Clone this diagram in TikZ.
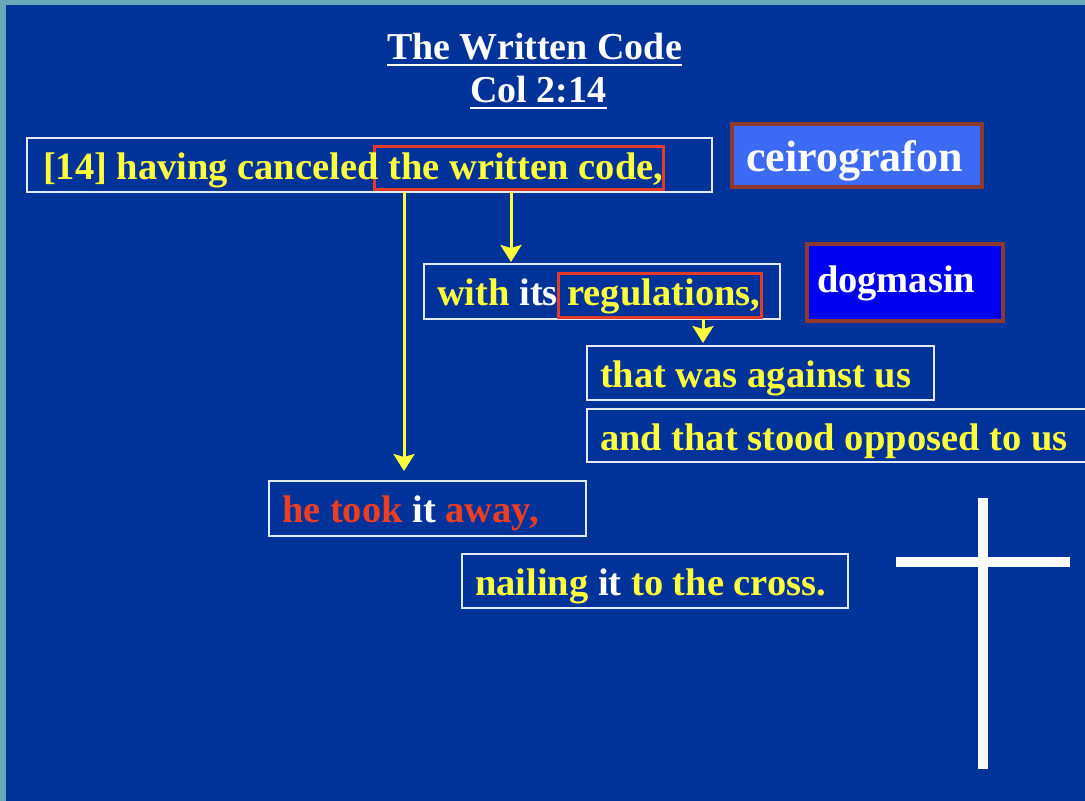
\documentclass[tikz,border=0pt]{standalone}
\usepackage{fontspec}
\setmainfont{Liberation Serif}
\usetikzlibrary{arrows.meta}
\definecolor{bgblue}{RGB}{0,51,153}
\definecolor{frameteal}{RGB}{106,168,184}
\definecolor{txtyellow}{RGB}{255,255,60}
\definecolor{txtred}{RGB}{236,62,34}
\definecolor{boxred}{RGB}{228,58,40}
\definecolor{boxbrown}{RGB}{140,58,45}
\definecolor{lightfill}{RGB}{60,106,245}
\definecolor{deepfill}{RGB}{0,0,240}
\definecolor{outline}{RGB}{225,235,245}
\tikzset{
  stdfont/.style={font=\bfseries\fontsize{38.5}{42}\selectfont},
  wbox/.style={draw=outline, line width=2pt, inner sep=0pt, outer sep=0pt},
  rbox/.style={draw=boxred, line width=3pt, inner sep=0pt, outer sep=0pt},
  gbox/.style={draw=boxbrown, line width=4pt, inner sep=0pt, outer sep=0pt},
  txt/.style={stdfont, inner sep=0pt, outer sep=0pt, anchor=base west},
  ttl/.style={font=\bfseries\fontsize{38}{40}\selectfont, text=white, inner sep=0pt, outer sep=0pt, anchor=base},
  uline/.style={draw=white, line width=2.5pt},
  arr/.style={draw=txtyellow, line width=3pt, -{Stealth[length=17pt,width=21pt,inset=3pt]}},
}
\begin{document}
\begin{tikzpicture}[x=1pt,y=-1pt]
\useasboundingbox (0,0) rectangle (1085,801);
\clip (0,0) rectangle (1085,801);
\fill[frameteal] (0,0) rectangle (1085,801);
\fill[bgblue] (6,5) rectangle (1090,806);

% title
\node[ttl] (t1) at (534.5,59) {The Written Code};
\node[ttl] (t2) at (538.5,102) {Col 2:14};
\draw[uline] ([yshift=-6pt]t1.base west) -- ([yshift=-6pt]t1.base east);
\draw[uline] ([yshift=-6pt]t2.base west) -- ([yshift=-6pt]t2.base east);

% boxes
\node[wbox, minimum width=685, minimum height=54] (b1) at (369.5,165) {};
\node[rbox, minimum width=289, minimum height=43] (r1) at (519,168) {};
\node[gbox, fill=lightfill, minimum width=250, minimum height=63] (g1) at (857,155.5) {};
\node[wbox, minimum width=356, minimum height=55] (b2) at (602,291.5) {};
\node[rbox, minimum width=203, minimum height=44] (r2) at (660,295.5) {};
\node[gbox, fill=deepfill, minimum width=196, minimum height=77] (g2) at (905,282.5) {};
\node[wbox, minimum width=347, minimum height=54] (b3) at (760.5,373) {};
\node[wbox, minimum width=513, minimum height=53] (b4) at (843.5,435.5) {};
\node[wbox, minimum width=317, minimum height=55] (b5) at (427.5,508.5) {};
\node[wbox, minimum width=386, minimum height=54] (b6) at (655,581) {};

% texts
\node[txt, text=txtyellow] (x1) at (43,179) {[14] having canceled the written code,};
\node[txt, text=white, font=\bfseries\fontsize{44}{46}\selectfont] (xg1) at (746,171) {ceirografon};
\node[txt] (x2) at (437,305) {\textcolor{txtyellow}{with} \textcolor{white}{its} \textcolor{txtyellow}{regulations,}};
\node[txt, text=white] (xg2) at (817,292) {dogmasin};
\node[txt, text=txtyellow] (x3) at (600,387) {that was against us};
\node[txt, text=txtyellow] (x4) at (600,450) {and that stood opposed to us};
\node[txt] (x5) at (282,522) {\textcolor{txtred}{he took} \textcolor{white}{it} \textcolor{txtred}{away,}};
\node[txt] (x6) at (475,595) {\textcolor{txtyellow}{nailing} \textcolor{white}{it} \textcolor{txtyellow}{to the cross.}};

% arrows
\draw[arr, shorten >=10pt] ([xshift=377pt]b1.south west) -- ([xshift=135pt]b5.north west);
\draw[arr, shorten >=2pt] ([xshift=484pt]b1.south west) -- ([xshift=87pt]b2.north west);
\draw[arr, shorten >=3pt] ([xshift=279pt]b2.south west) -- ([xshift=116pt]b3.north west);

% cross
\fill[white] (978,498) rectangle (988,769);
\fill[white] (896,557) rectangle (1070,567);
\end{tikzpicture}
\end{document}
